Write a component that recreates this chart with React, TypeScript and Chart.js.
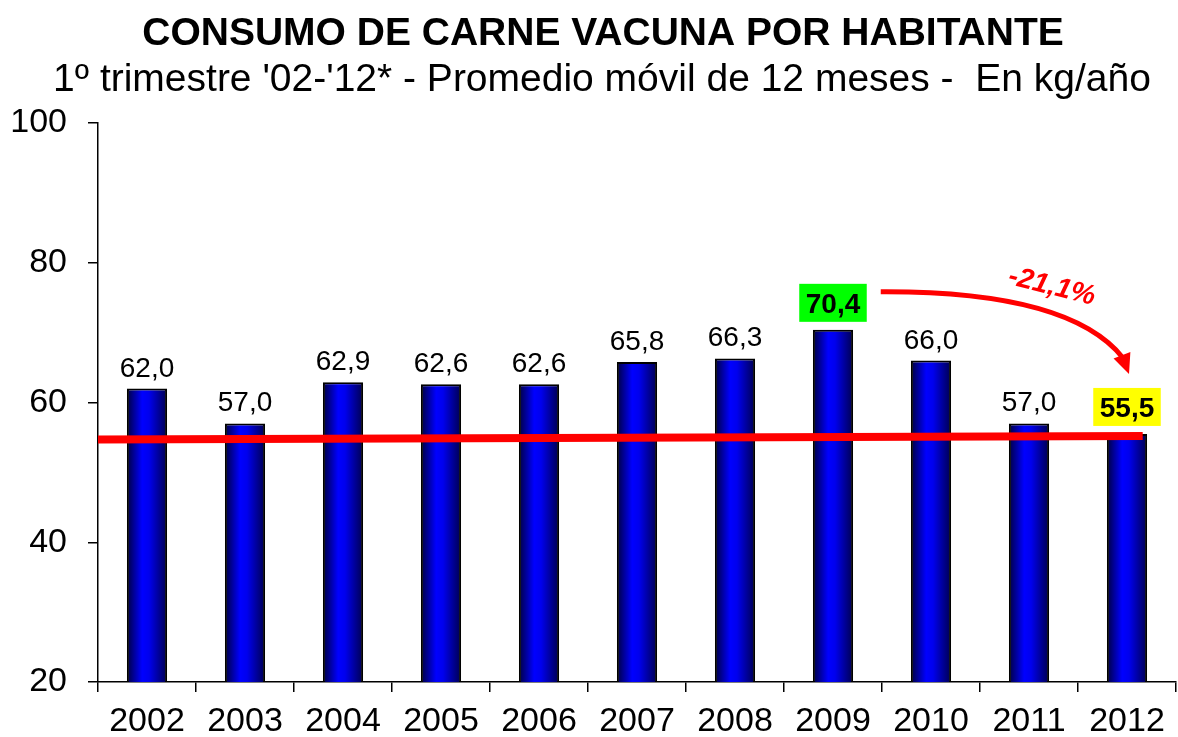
import React, { useEffect, useRef } from "react";
import { Chart, registerables } from "chart.js";

Chart.register(...registerables);

const TITLE = "CONSUMO DE CARNE VACUNA POR HABITANTE";
const SUBTITLE = "1º trimestre '02-'12* - Promedio móvil de 12 meses -  En kg/año";

const years = ["2002", "2003", "2004", "2005", "2006", "2007", "2008", "2009", "2010", "2011", "2012"];
const consumo = [62.0, 57.0, 62.9, 62.6, 62.6, 65.8, 66.3, 70.4, 66.0, 57.0, 55.5];
const highlightColors: (string | null)[] = [null, null, null, null, null, null, null, "#00ff00", null, null, "#ffff00"];
// reference line: value at its left end and at its right end
const refLine = [54.7, 55.2];
const refLineEndIndex = 10.16;
const changeFrom = 7;
const changeTo = 10;
const changeLabel = "-21,1%";

const yMin = 20;
const yMax = 100;
const yStep = 20;

const FONT = "'Liberation Sans', Arial, Helvetica, sans-serif";

const fmt = (v: number) => v.toFixed(1).replace(".", ",");

const overlayPlugin = {
  id: "overlay",
  afterDatasetsDraw(chart: any) {
    const { ctx, scales } = chart;
    const x = scales.x;
    const y = scales.y;
    const area = chart.chartArea;

    // red reference line
    ctx.save();
    ctx.strokeStyle = "#ff0000";
    ctx.lineWidth = 8;
    ctx.lineCap = "butt";
    ctx.beginPath();
    ctx.moveTo(area.left, y.getPixelForValue(refLine[0]));
    ctx.lineTo(x.getPixelForValue(refLineEndIndex), y.getPixelForValue(refLine[1]));
    ctx.stroke();
    ctx.restore();

    // value labels
    const boxes: any[] = [];
    consumo.forEach((v, i) => {
      const cx = x.getPixelForValue(i);
      const top = y.getPixelForValue(v);
      const text = fmt(v);
      const hl = highlightColors[i];
      ctx.save();
      ctx.textAlign = "center";
      if (hl) {
        ctx.font = `bold 28px ${FONT}`;
        const w = ctx.measureText(text).width + 13;
        const h = 38;
        const bottom = top - 8;
        const bx = cx - w / 2;
        const by = bottom - h;
        ctx.fillStyle = hl;
        ctx.fillRect(bx, by, w, h);
        ctx.fillStyle = "#000";
        ctx.textBaseline = "alphabetic";
        ctx.fillText(text, cx, by + h / 2 + 10);
        boxes[i] = { left: bx, right: bx + w, top: by, bottom: by + h, cx, cy: by + h / 2 };
      } else {
        ctx.font = `28px ${FONT}`;
        ctx.fillStyle = "#000";
        ctx.textBaseline = "alphabetic";
        ctx.fillText(text, cx, top - 12);
      }
      ctx.restore();
    });

    // curved arrow
    const a = boxes[changeFrom];
    const b = boxes[changeTo];
    if (a && b) {
      const sx = a.right + 14;
      const sy = a.cy - 11;
      const tipX = b.cx + 2;
      const tipY = b.top - 14;
      const ex = tipX - 6;
      const ey = tipY - 16;
      const cxp = sx + (ex - sx) * 0.78;
      const cyp = sy - 1;
      ctx.save();
      ctx.strokeStyle = "#ff0000";
      ctx.fillStyle = "#ff0000";
      ctx.lineWidth = 5;
      ctx.beginPath();
      ctx.moveTo(sx, sy);
      ctx.quadraticCurveTo(cxp, cyp, ex, ey);
      ctx.stroke();
      // arrow head
      const ang = Math.atan2(tipY - ey, tipX - ex);
      const len = 20;
      const half = 9;
      const bxp = tipX - Math.cos(ang) * len;
      const byp = tipY - Math.sin(ang) * len;
      ctx.beginPath();
      ctx.moveTo(tipX, tipY);
      ctx.lineTo(bxp + Math.sin(ang) * half, byp - Math.cos(ang) * half);
      ctx.lineTo(bxp - Math.sin(ang) * half, byp + Math.cos(ang) * half);
      ctx.closePath();
      ctx.fill();
      // percentage text
      const mx = 0.25 * sx + 0.5 * cxp + 0.25 * ex;
      const my = 0.25 * sy + 0.5 * cyp + 0.25 * ey;
      ctx.translate(mx + 16, my - 21);
      ctx.rotate((14 * Math.PI) / 180);
      ctx.font = `italic bold 28px ${FONT}`;
      ctx.textAlign = "center";
      ctx.textBaseline = "middle";
      ctx.fillText(changeLabel, 0, 0);
      ctx.restore();
    }
  },
  afterDraw(chart: any) {
    const { ctx } = chart;
    ctx.save();
    ctx.fillStyle = "#000";
    ctx.textAlign = "center";
    ctx.textBaseline = "alphabetic";
    ctx.font = `bold 39px ${FONT}`;
    ctx.fillText(TITLE, 603, 45);
    ctx.font = `39px ${FONT}`;
    ctx.fillText(SUBTITLE, 602, 91);
    ctx.restore();
  },
};

export default function App() {
  const ref = useRef<HTMLCanvasElement | null>(null);

  useEffect(() => {
    document.body.style.margin = "0";
    const canvas = ref.current;
    if (!canvas) return;
    Chart.defaults.font.family = FONT;
    const chart = new Chart(canvas, {
      type: "bar",
      data: {
        labels: years,
        datasets: [
          {
            data: consumo,
            backgroundColor: (c: any) => {
              const ch = c.chart;
              const xs = ch.scales?.x;
              if (!xs || !ch.chartArea) return "#0000ff";
              const cx = xs.getPixelForValue(c.dataIndex);
              const w = (xs.width / years.length) * 0.41;
              const g = ch.ctx.createLinearGradient(cx - w / 2, 0, cx + w / 2, 0);
              g.addColorStop(0, "#000040");
              g.addColorStop(0.38, "#0000ff");
              g.addColorStop(0.55, "#0000ee");
              g.addColorStop(1, "#000050");
              return g;
            },
            borderColor: "#000",
            borderWidth: 2,
            borderSkipped: false,
            categoryPercentage: 1,
            barPercentage: 0.41,
          },
        ],
      },
      options: {
        responsive: false,
        animation: false,
        layout: { padding: { top: 123, right: 2, left: 0, bottom: 0 } },
        plugins: {
          legend: { display: false },
          tooltip: { enabled: false },
          title: { display: false },
        },
        scales: {
          x: {
            offset: true,
            grid: { offset: true, drawOnChartArea: false, drawTicks: true, tickLength: 10, color: "#000", lineWidth: 1.5 },
            border: { display: true, color: "#000", width: 1.5 },
            ticks: { color: "#000", font: { size: 34, family: FONT }, padding: 9, maxRotation: 0, autoSkip: false },
            afterFit: (s: any) => {
              s.height = 55;
            },
          },
          y: {
            min: yMin,
            max: yMax,
            grid: { drawOnChartArea: false, drawTicks: true, tickLength: 10, color: "#000", lineWidth: 1.5 },
            border: { display: true, color: "#000", width: 1.5 },
            ticks: { stepSize: yStep, color: "#000", font: { size: 34, family: FONT }, padding: 21 },
            afterFit: (s: any) => {
              s.width = 98;
            },
          },
        },
      },
      plugins: [overlayPlugin],
    } as any);
    return () => chart.destroy();
  }, []);

  return (
    <div style={{ position: "absolute", left: 0, top: 0, width: 1178, height: 737 }}>
      <canvas ref={ref} width={1178} height={737} />
    </div>
  );
}
